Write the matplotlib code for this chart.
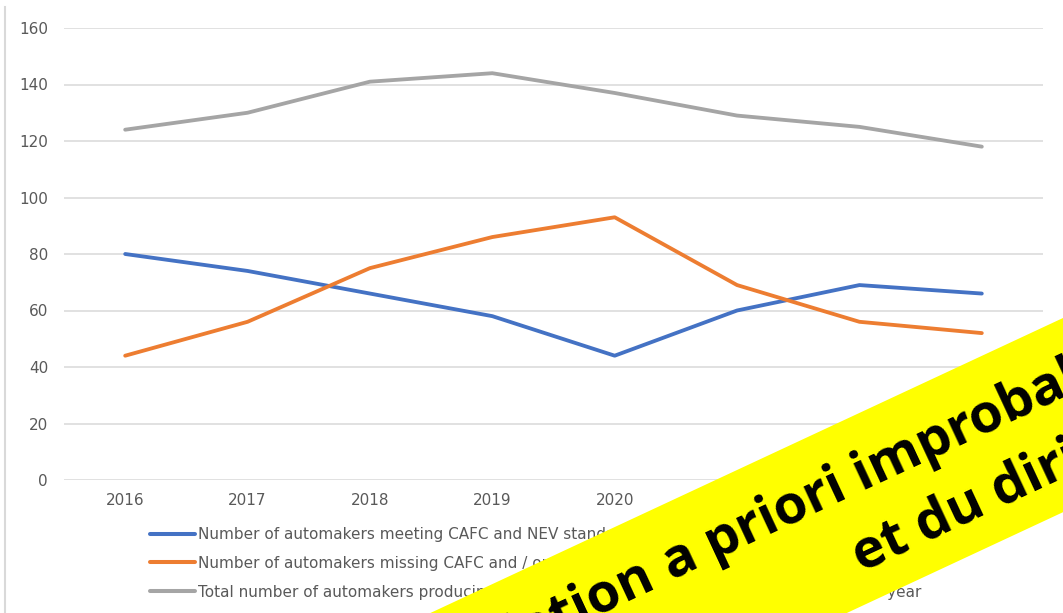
import matplotlib
matplotlib.use("Agg")
import matplotlib.pyplot as plt
from matplotlib.patches import Polygon
from matplotlib.lines import Line2D
import numpy as np

# ---- data ----
years = ["2016", "2017", "2018", "2019", "2020", "2021", "2022", "2023"]
meeting = [80, 74, 66, 58, 44, 60, 69, 66]
missing = [44, 56, 75, 86, 93, 69, 56, 52]
total = [124, 130, 141, 144, 137, 129, 125, 118]
series_labels = [
    "Number of automakers meeting CAFC and NEV standards",
    "Number of automakers missing CAFC and / or NEV standards",
    "Total number of automakers producing passenger vehicles in the Chinese market in each year",
]
y_ticks = [0, 20, 40, 60, 80, 100, 120, 140, 160]
banner_head = "corrélation"
banner_tail = "a priori improbable"
banner_second = "et du dirigisme"

# ---- styling ----
W, H = 1063, 613
colors = ["#4472C4", "#ED7D31", "#A5A5A5"]
text_grey = "#595959"
grid_grey = "#D9D9D9"
plt.rcParams["font.family"] = ["DejaVu Sans"]

fig = plt.figure(figsize=(W / 100, H / 100), dpi=100)
fig.patch.set_facecolor("white")

# plot area in pixels: x 64..1043, y 28..480 (from top)
ax = fig.add_axes([64 / W, (H - 480) / H, (1043 - 64) / W, (480 - 28) / H])
x = np.arange(len(years))
for vals, col, lab in zip([meeting, missing, total], colors, series_labels):
    ax.plot(x, vals, color=col, lw=2.75, solid_capstyle="round",
            solid_joinstyle="round", label=lab)

ax.set_xlim(-0.5, len(years) - 0.5)
ax.set_ylim(0, 160)
ax.set_yticks(y_ticks)
ax.set_xticks(x, years)
ax.grid(axis="y", color=grid_grey, lw=1.1)
ax.set_axisbelow(True)
for s in ax.spines.values():
    s.set_visible(False)
ax.tick_params(length=0, colors=text_grey, labelsize=11)
ax.tick_params(axis="y", pad=16 * 0.72)
ax.tick_params(axis="x", pad=13 * 0.72)

fs_px = 11 * 100 / 72
leg = ax.legend(loc="upper left", bbox_to_anchor=(150 / W, 1 - 527 / H),
                bbox_transform=fig.transFigure, frameon=False, borderpad=0,
                borderaxespad=0, handlelength=45 / fs_px,
                handletextpad=3 / fs_px, labelspacing=0.9, fontsize=11,
                labelcolor=text_grey)
for ln in leg.get_lines():
    ln.set_linewidth(2.9)

# chart border on the left
fig.add_artist(Line2D([4.5 / W, 4.5 / W], [0, 1 - 7 / H], color=grid_grey, lw=1.5))

# ---- diagonal banner overlay ----
ov = fig.add_axes([0, 0, 1, 1], zorder=10)
ov.set_xlim(0, W)
ov.set_ylim(H, 0)
ov.axis("off")
ov.patch.set_alpha(0)

ang = 25.0
a = np.deg2rad(ang)
d = np.array([np.cos(a), -np.sin(a)])
n = np.array([np.sin(a), np.cos(a)])
p0 = np.array([1063.0, 318.0])
band_w = 176.0


def pt(u, v):
    return p0 + u * d + v * n


band = [pt(-2000, 0), pt(600, 0), pt(600, band_w), pt(-2000, band_w)]
ov.add_patch(Polygon(band, closed=True, facecolor="#FFFF00", edgecolor="none"))

bfs = 39
bfont = dict(fontsize=bfs, fontweight="bold", family=["Open Sans", "DejaVu Sans"],
             color="black", rotation=ang, rotation_mode="anchor", va="baseline")
u_a, v1 = -466.0, 72.0
ov.text(*pt(u_a - 15, v1), banner_head, ha="right", **bfont)
ov.text(*pt(u_a, v1), banner_tail, ha="left", **bfont)
ov.text(*pt(-290.0, 145.0), banner_second, ha="left", **bfont)

fig.savefig("out.png", dpi=100)
